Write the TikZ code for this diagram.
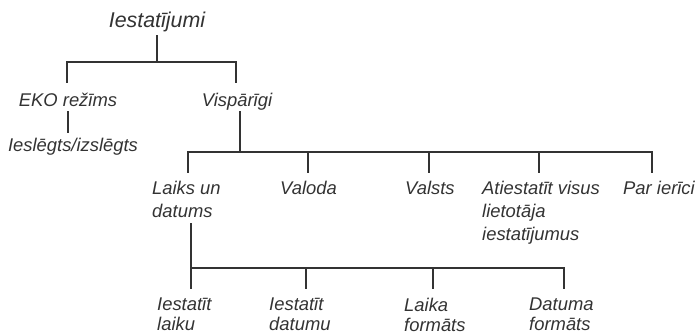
\documentclass[tikz,border=0pt]{standalone}
\usepackage{fontspec}
\setmainfont{Liberation Sans}
\definecolor{ink}{HTML}{333333}
\begin{document}
\begin{tikzpicture}[x=1pt,y=-1pt,
  lbl/.style={font=\itshape\fontsize{18.4}{23}\selectfont, text=ink, inner sep=0pt, align=left},
  lblb/.style={lbl, font=\itshape\fontsize{18.4}{20.5}\selectfont},
  ttl/.style={font=\itshape\fontsize{21.4}{25}\selectfont, text=ink, inner sep=0pt},
  conn/.style={draw=ink, line width=1.6pt, line cap=rect}]
\useasboundingbox (0,0) rectangle (700,334);

% texts
\node[ttl, anchor=base] (root) at (157,27.5) {Iestatījumi};
\node[lbl, anchor=base] (eko) at (68,106.5) {EKO režīms};
\node[lbl, anchor=base] (vis) at (237,106.5) {Vispārīgi};
\node[lbl, anchor=base] (ies) at (73,151.5) {Ieslēgts/izslēgts};

\node[lbl, anchor=north west] (laiks) at (152,180.5) {Laiks un\\datums};
\node[lbl, anchor=north west] (valoda) at (280,180.5) {Valoda};
\node[lbl, anchor=north west] (valsts) at (405,180.5) {Valsts};
\node[lbl, anchor=north west] (atie) at (482,180.5) {Atiestatīt visus\\lietotāja\\iestatījumus};
\node[lbl, anchor=north west] (par) at (623,180.5) {Par ierīci};

\node[lblb, anchor=north west] (t1) at (157,297.5) {Iestatīt\\laiku};
\node[lblb, anchor=north west] (t2) at (269,297.5) {Iestatīt\\datumu};
\node[lblb, anchor=north west] (t3) at (404,297.5) {Laika\\formāts};
\node[lblb, anchor=north west] (t4) at (529,297.5) {Datuma\\formāts};

% level 1
\draw[conn] (root |- 0,36) -- (root |- 0,62);
\draw[conn] ([xshift=-1pt]eko.base |- 0,82) -- ([xshift=-1pt]eko.base |- 0,62)
  -- ([xshift=-1pt]vis.base |- 0,62) -- ([xshift=-1pt]vis.base |- 0,82);
\draw[conn] (eko.base |- 0,112) -- (eko.base |- 0,132);

% level 2
\draw[conn] ([xshift=3pt]vis.base |- 0,112) -- ([xshift=3pt]vis.base |- 0,152);
\draw[conn] ([xshift=36pt]laiks.north west |- 0,172) -- ([xshift=36pt]laiks.north west |- 0,152)
  -- ([xshift=29pt]par.north west |- 0,152) -- ([xshift=29pt]par.north west |- 0,172);
\draw[conn] ([xshift=28pt]valoda.north west |- 0,152) -- ([xshift=28pt]valoda.north west |- 0,172);
\draw[conn] ([xshift=24pt]valsts.north west |- 0,152) -- ([xshift=24pt]valsts.north west |- 0,172);
\draw[conn] ([xshift=57pt]atie.north west |- 0,152) -- ([xshift=57pt]atie.north west |- 0,172);

% level 3
\draw[conn] ([xshift=39pt]laiks.north west |- 0,224) -- ([xshift=39pt]laiks.north west |- 0,268);
\draw[conn] ([xshift=34pt]t1.north west |- 0,288) -- ([xshift=34pt]t1.north west |- 0,268)
  -- ([xshift=35pt]t4.north west |- 0,268) -- ([xshift=35pt]t4.north west |- 0,288);
\draw[conn] ([xshift=37pt]t2.north west |- 0,268) -- ([xshift=37pt]t2.north west |- 0,288);
\draw[conn] ([xshift=29pt]t3.north west |- 0,268) -- ([xshift=29pt]t3.north west |- 0,288);
\end{tikzpicture}
\end{document}
